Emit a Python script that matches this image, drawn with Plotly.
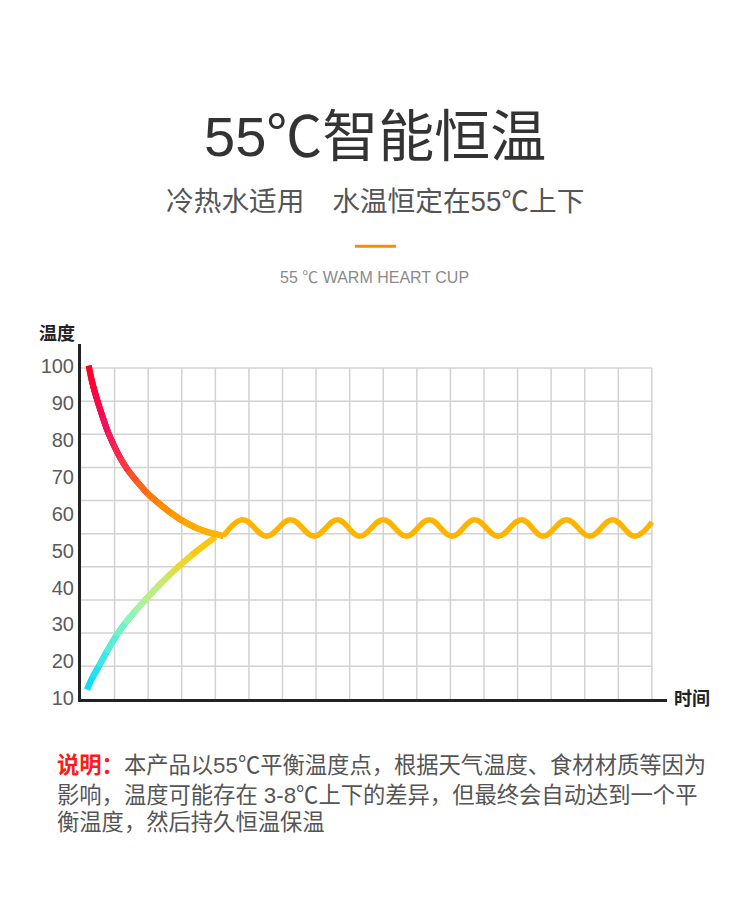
import plotly.graph_objects as go

W, H = 750, 911
PAD_X, PAD_Y = 8, 0  # the page shifts the figure right by its body margin

# temperature labels on the left axis
y_ticks = [10, 20, 30, 40, 50, 60, 70, 80, 90, 100]

# cooling curve (hot water), x in grid columns
red_x = [0.23, 0.31, 0.41, 0.53, 0.66, 0.80, 0.97, 1.17, 1.40, 1.67, 1.96,
         2.29, 2.65, 3.04, 3.42, 3.78, 4.05, 4.24]
red_t = [100.1, 96.5, 93.0, 89.4, 85.8, 82.2, 78.7, 75.1, 71.75, 68.7, 65.7,
         63.0, 60.4, 58.0, 56.2, 55.0, 54.4, 53.9]

# warming curve (cold water)
blue_x = [0.18, 0.34, 0.53, 0.76, 1.06, 1.31, 1.61, 1.88, 2.30, 2.60, 2.82,
          3.30, 3.59, 4.00]
blue_t = [12.4, 15.6, 18.7, 22.5, 27.1, 30.3, 33.6, 36.3, 40.4, 43.1, 45.0,
          48.8, 50.9, 53.7]

# holding around 55 degrees: troughs and peaks
wave_x = [4.24, 4.81, 5.53, 6.24, 6.94, 7.64, 8.30, 9.00, 9.69, 10.37,
          11.05, 11.72, 12.42, 13.12, 13.76, 14.46, 15.15, 15.83, 16.49, 17.0]
wave_t = [53.9, 58.4, 53.9, 58.4, 53.9, 58.4, 53.9, 58.4, 53.9, 58.4,
          53.9, 58.4, 53.9, 58.4, 53.9, 58.4, 53.9, 58.4, 53.9, 57.7]

# colour stops along each curve (temperature, colour)
red_stops = [(100, '#ff0010'), (88, '#fa0544'), (80, '#f2105c'), (71, '#ff2e48'),
             (66, '#ff5a1e'), (61, '#ff8200'), (57, '#ff9e00'), (54, '#ffb400')]
blue_stops = [(12, '#00d4ff'), (20, '#1ee0f2'), (28, '#52eed6'), (35, '#8cf6b8'),
              (40, '#b4f296'), (45, '#d2e660'), (50, '#eed62c'), (54, '#ffbe00')]

n_cols, n_rows = 17, 10


def px(x, y):
    return (x - PAD_X) / W, 1 - (y - PAD_Y) / H


def hex2rgb(h):
    return [int(h[i:i + 2], 16) for i in (1, 3, 5)]


def stop_color(stops, t):
    ts = [s[0] for s in stops]
    t = max(min(ts), min(max(ts), t))
    for (t0, c0), (t1, c1) in zip(stops, stops[1:]):
        if min(t0, t1) <= t <= max(t0, t1):
            f = (t - t0) / (t1 - t0) if t1 != t0 else 0
            a, b = hex2rgb(c0), hex2rgb(c1)
            return 'rgb(%d,%d,%d)' % tuple(round(a[k] + (b[k] - a[k]) * f) for k in range(3))
    return stops[-1][1]


fig = go.Figure()


def gradient_line(xs, ys, stops, width):
    # one smoothed piece per step, each with its neighbours so the bends match
    n = len(xs)
    for i in range(n - 1):
        a, b = max(0, i - 1), min(n, i + 3)
        c = stop_color(stops, (ys[i] + ys[i + 1]) / 2)
        fig.add_trace(go.Scatter(x=xs[a:b], y=ys[a:b], mode='lines',
                                 line=dict(color=c, width=width, shape='spline', smoothing=1),
                                 hoverinfo='skip', showlegend=False))


fig.add_trace(go.Scatter(x=wave_x, y=wave_t, mode='lines',
                         line=dict(color='#ffb400', width=5.5, shape='spline', smoothing=1.1),
                         hoverinfo='skip', showlegend=False))
gradient_line(blue_x, blue_t, blue_stops, 6)
gradient_line(red_x, red_t, red_stops, 6)
# keeps the grid axis alive
fig.add_trace(go.Scatter(x=[], y=[], yaxis='y2', showlegend=False))

# grid
shapes = []
for i in range(1, n_cols + 1):
    shapes.append(dict(type='line', xref='x', yref='y2', x0=i, x1=i, y0=0, y1=n_rows,
                       line=dict(color='#d2d2d2', width=1.5), layer='below'))
for j in range(1, n_rows + 1):
    shapes.append(dict(type='line', xref='x', yref='y2', x0=0, x1=n_cols, y0=j, y1=j,
                       line=dict(color='#d2d2d2', width=1.5), layer='below'))

# short orange divider
x0, y0 = px(355, 241)
x1, _ = px(396, 241)
shapes.append(dict(type='line', xref='paper', yref='paper', x0=x0, x1=x1, y0=y0, y1=y0,
                   line=dict(color='#ff8a00', width=3)))

CJK = 'Noto Sans CJK SC'
LAT = 'Liberation Sans, Noto Sans CJK SC'


def ann(text, x, y, size, color, xanchor='center', family=CJK):
    ax, ay = px(x, y)
    return dict(text=text, x=ax, y=ay, xref='paper', yref='paper', showarrow=False,
                xanchor=xanchor, yanchor='middle', align='left',
                font=dict(size=size, color=color, family=family))


annotations = [
    ann('55℃智能恒温', 375, 130, 56, '#333333', family=LAT),
    ann('冷热水适用　水温恒定在55℃上下', 375, 196, 27.7, '#555555', family=LAT),
    ann('55 ℃ WARM HEART CUP', 374, 272.5, 16, '#8a8a8a', family=LAT),
    ann('<b>温度</b>', 57, 328, 18, '#222222'),
    ann('<b>时间</b>', 692, 697, 18, '#222222'),
    ann('<span style="color:#ff1a1a"><b>说明：</b></span>本产品以55℃平衡温度点，根据天气温度、食材材质等因为',
        55, 766, 22.3, '#555555', xanchor='left', family=LAT),
    ann('影响，温度可能存在 3-8℃上下的差异，但最终会自动达到一个平',
        55, 796, 22.3, '#555555', xanchor='left', family=LAT),
    ann('衡温度，然后持久恒温保温',
        55, 824, 22.3, '#555555', xanchor='left', family=LAT),
]

xd0, _ = px(81, 0)
xd1, _ = px(667, 0)
_, yd0 = px(0, 699)
_, yd1 = px(0, 340)

fig.update_layout(
    width=W, height=H,
    margin=dict(l=0, r=0, t=0, b=0),
    paper_bgcolor='white', plot_bgcolor='white',
    showlegend=False,
    xaxis=dict(domain=[xd0, xd1], range=[0, 17.45], showgrid=False, zeroline=False,
               showticklabels=False, ticks='', showline=True, linecolor='#222222',
               linewidth=3, fixedrange=True),
    yaxis=dict(domain=[yd0, yd1], range=[9.73, 105.9], tickvals=y_ticks,
               showgrid=False, zeroline=False, ticks='', showline=True,
               linecolor='#222222', linewidth=3,
               tickfont=dict(size=20, color='#5a5a5a', family=LAT), fixedrange=True),
    yaxis2=dict(overlaying='y', range=[0, 10.716], visible=False, fixedrange=True),
    shapes=shapes,
    annotations=annotations,
)

fig.write_html("out.html")
